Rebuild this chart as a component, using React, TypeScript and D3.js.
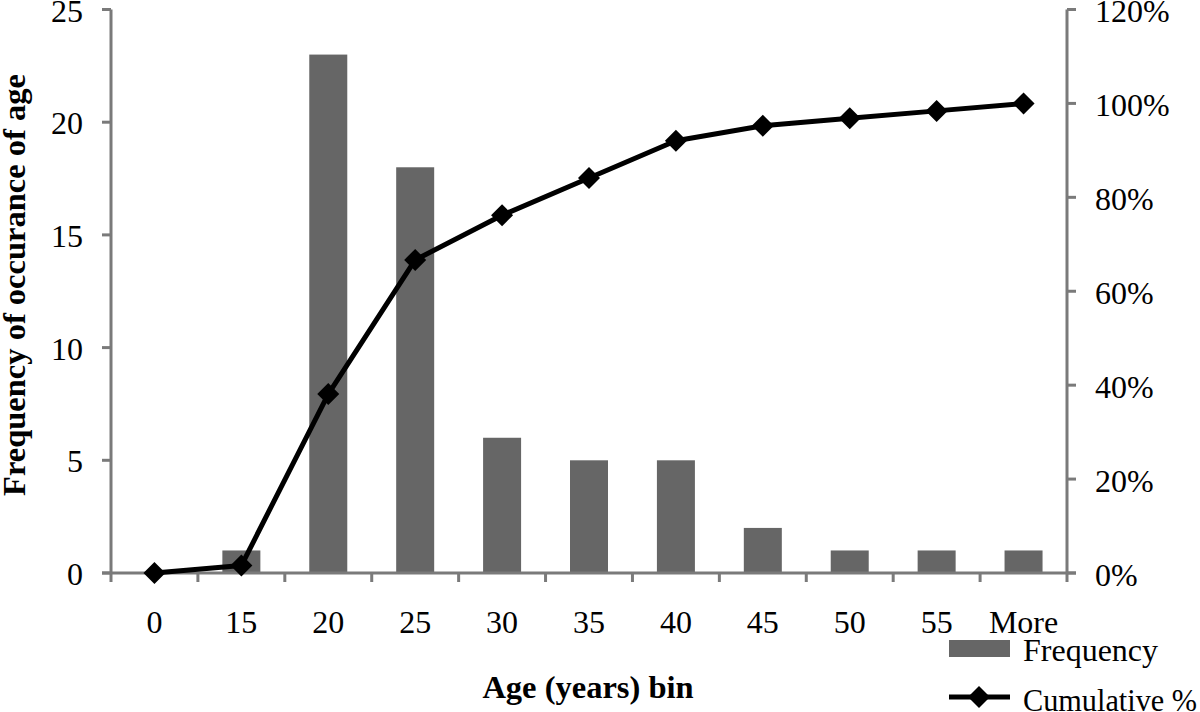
import React from "react";
import * as d3 from "d3";

const categories = ["0", "15", "20", "25", "30", "35", "40", "45", "50", "55", "More"];
const frequency = [0, 1, 23, 18, 6, 5, 5, 2, 1, 1, 1];
const cumulative = [0, 1.59, 38.1, 66.67, 76.19, 84.13, 92.06, 95.24, 96.83, 98.41, 100];
const leftTicks = [0, 5, 10, 15, 20, 25];
const rightTicks = [0, 20, 40, 60, 80, 100, 120];

const W = 1200, H = 712;
const L = 111, R = 1067, T = 9.5, B = 573;
const FONT = "'Liberation Serif', 'Times New Roman', serif";
const FS = 32;
const TFS = 32.5;
const AXIS = "#7a7a7a";
const BAR = "#666666";

export default function App() {
  const x = d3.scaleBand<string>().domain(categories).range([L, R]);
  const yL = d3.scaleLinear().domain([0, 25]).range([B, T]);
  const yR = d3.scaleLinear().domain([0, 120]).range([B, T]);
  const barW = 38;
  const cx = (c: string) => (x(c) as number) + x.bandwidth() / 2;
  const line = d3.line<number>().x((_, i) => cx(categories[i])).y((d) => yR(d));
  const diamond = (px: number, py: number, r = 11) =>
    `M${px},${py - r}L${px + r},${py}L${px},${py + r}L${px - r},${py}Z`;

  return (
    <svg width={W} height={H} style={{ position: "absolute", left: 0, top: 0, background: "#fff" }}>
      {/* bars */}
      {frequency.map((v, i) => (
        <rect key={i} x={cx(categories[i]) - barW / 2} y={yL(v)} width={barW} height={B - yL(v)} fill={BAR} />
      ))}
      {/* left axis */}
      <line x1={L} x2={L} y1={T} y2={B} stroke={AXIS} strokeWidth={3} />
      {leftTicks.map((t) => (
        <g key={t}>
          <line x1={L - 9} x2={L} y1={yL(t)} y2={yL(t)} stroke={AXIS} strokeWidth={3} />
          <text x={83} y={yL(t) + 12} textAnchor="end" fontFamily={FONT} fontSize={FS}>{t}</text>
        </g>
      ))}
      {/* right axis */}
      <line x1={R} x2={R} y1={T} y2={B} stroke={AXIS} strokeWidth={3} />
      {rightTicks.map((t) => (
        <g key={t}>
          <line x1={R} x2={R + 9} y1={yR(t)} y2={yR(t)} stroke={AXIS} strokeWidth={3} />
          <text x={1095} y={yR(t) + 12.5} textAnchor="start" fontFamily={FONT} fontSize={FS}>{t}%</text>
        </g>
      ))}
      {/* x axis */}
      <line x1={L - 9} x2={R + 9} y1={B} y2={B} stroke={AXIS} strokeWidth={3} />
      {categories.map((c, i) => (
        <line key={"t" + i} x1={x(c) as number} x2={x(c) as number} y1={B} y2={B + 9} stroke={AXIS} strokeWidth={3} />
      ))}
      <line x1={R} x2={R} y1={B} y2={B + 9} stroke={AXIS} strokeWidth={3} />
      {categories.map((c) => (
        <text key={"l" + c} x={cx(c)} y={633} textAnchor="middle" fontFamily={FONT} fontSize={FS}>{c}</text>
      ))}
      {/* cumulative line */}
      <path d={line(cumulative) as string} fill="none" stroke="#000" strokeWidth={5} strokeLinejoin="round" />
      {cumulative.map((v, i) => (
        <path key={"d" + i} d={diamond(cx(categories[i]), yR(v))} fill="#000" />
      ))}
      {/* axis titles */}
      <text x={588} y={698} textAnchor="middle" fontFamily={FONT} fontSize={TFS} fontWeight="bold">Age (years) bin</text>
      <text transform={`translate(25,285) rotate(-90)`} textAnchor="middle" fontFamily={FONT} fontSize={TFS} fontWeight="bold">Frequency of occurance of age</text>
      {/* legend */}
      <rect x={949} y={640} width={61} height={17} fill={BAR} />
      <text x={1023} y={661} fontFamily={FONT} fontSize={FS}>Frequency</text>
      <line x1={949} x2={1010} y1={697} y2={697} stroke="#000" strokeWidth={5} />
      <path d={diamond(979, 697)} fill="#000" />
      <text x={1023} y={711} fontFamily={FONT} fontSize={FS} textLength={174} lengthAdjust="spacingAndGlyphs">Cumulative %</text>
    </svg>
  );
}
